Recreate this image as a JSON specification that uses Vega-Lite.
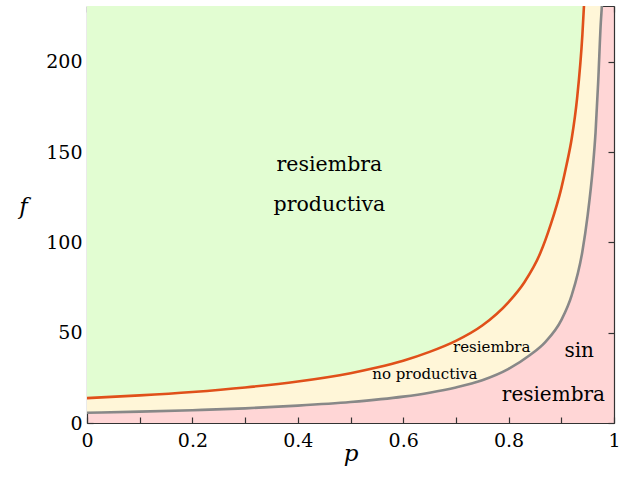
{
  "$schema": "https://vega.github.io/schema/vega-lite/v6.json",
  "width": 527,
  "height": 417,
  "autosize": {"type": "none"},
  "padding": {"left": 87, "top": 6, "right": 14, "bottom": 57},
  "background": "white",
  "view": {"fill": "#FFD6D6", "stroke": null},
  "config": {
    "font": "DejaVu Serif",
    "text": {"font": "DejaVu Serif"},
    "axis": {
      "labelFont": "DejaVu Serif",
      "labelFontSize": 19,
      "labelColor": "black",
      "titleFont": "DejaVu Serif",
      "titleFontSize": 23,
      "titleFontStyle": "italic",
      "titleFontWeight": "normal",
      "titleColor": "black",
      "domainColor": "#333333",
      "domainWidth": 1.2,
      "tickColor": "#333333",
      "tickWidth": 1.2,
      "tickSize": -6,
      "grid": false,
      "labelOverlap": false,
      "labelFlush": false
    }
  },
  "datasets": {
    "orange": [
      {"p": 0, "f": 13.8}, {"p": 0.1, "f": 15.3}, {"p": 0.2, "f": 17.2}, {"p": 0.3, "f": 19.7},
      {"p": 0.4, "f": 23}, {"p": 0.5, "f": 27.6}, {"p": 0.55, "f": 30.7}, {"p": 0.6, "f": 34.5},
      {"p": 0.65, "f": 39.4}, {"p": 0.7, "f": 45.5}, {"p": 0.75, "f": 54}, {"p": 0.8, "f": 67},
      {"p": 0.83, "f": 78}, {"p": 0.86, "f": 94}, {"p": 0.88, "f": 110}, {"p": 0.9, "f": 130},
      {"p": 0.91, "f": 143}, {"p": 0.92, "f": 158}, {"p": 0.93, "f": 180}, {"p": 0.94, "f": 215},
      {"p": 0.943, "f": 231}
    ],
    "gray": [
      {"p": 0, "f": 5.7}, {"p": 0.1, "f": 6.3}, {"p": 0.2, "f": 7.1}, {"p": 0.3, "f": 8.1},
      {"p": 0.4, "f": 9.6}, {"p": 0.5, "f": 11.6}, {"p": 0.6, "f": 14.6}, {"p": 0.65, "f": 16.8},
      {"p": 0.7, "f": 19.7}, {"p": 0.75, "f": 23.7}, {"p": 0.8, "f": 30}, {"p": 0.84, "f": 37.5},
      {"p": 0.87, "f": 45}, {"p": 0.9, "f": 57}, {"p": 0.92, "f": 71}, {"p": 0.94, "f": 95},
      {"p": 0.95, "f": 115}, {"p": 0.96, "f": 142}, {"p": 0.965, "f": 161}, {"p": 0.97, "f": 189},
      {"p": 0.975, "f": 222}, {"p": 0.977, "f": 231}
    ]
  },
  "layer": [
    {
      "data": {"name": "gray"},
      "mark": {"type": "area", "color": "#FFF6D8", "interpolate": "monotone", "clip": true},
      "encoding": {
        "x": {"field": "p", "type": "quantitative", "scale": {"domain": [0, 1], "nice": false, "zero": false},
              "axis": {"orient": "bottom", "title": "p", "values": [0, 0.1, 0.2, 0.3, 0.4, 0.5, 0.6, 0.7, 0.8, 0.9, 1],
                       "labelExpr": "round(datum.value*10)%2==0 ? format(datum.value,'') : ''",
                       "labelPadding": 14, "titleBaseline": "alphabetic", "titleY": 37}},
        "y": {"field": "f", "type": "quantitative", "scale": {"domain": [0, 231], "nice": false, "zero": false},
              "axis": {"orient": "left", "title": "f", "values": [0, 50, 100, 150, 200], "labelPadding": 11,
                       "titleAngle": 0, "titleX": -64, "titleY": 207, "titleAlign": "center", "titleBaseline": "alphabetic"}},
        "y2": {"datum": 231}
      }
    },
    {
      "data": {"name": "orange"},
      "mark": {"type": "area", "color": "#E2FDD2", "interpolate": "monotone", "clip": true},
      "encoding": {
        "x": {"field": "p", "type": "quantitative",
              "axis": {"orient": "top", "title": null, "values": [0, 0.1, 0.2, 0.3, 0.4, 0.5, 0.6, 0.7, 0.8, 0.9, 1], "labels": false}},
        "y": {"field": "f", "type": "quantitative",
              "axis": {"orient": "right", "title": null, "values": [0, 50, 100, 150, 200], "labels": false}},
        "y2": {"datum": 231}
      }
    },
    {
      "data": {"name": "orange"},
      "mark": {"type": "line", "color": "#E0501A", "strokeWidth": 2.6, "interpolate": "monotone", "clip": true},
      "encoding": {
        "x": {"field": "p", "type": "quantitative", "axis": null},
        "y": {"field": "f", "type": "quantitative", "axis": null}
      }
    },
    {
      "data": {"name": "gray"},
      "mark": {"type": "line", "color": "#888888", "strokeWidth": 2.6, "interpolate": "monotone", "clip": true},
      "encoding": {
        "x": {"field": "p", "type": "quantitative", "axis": null},
        "y": {"field": "f", "type": "quantitative", "axis": null}
      }
    },
    {
      "data": {"values": [{}]},
      "mark": {"type": "text", "text": "resiembra", "font": "DejaVu Serif", "fontSize": 20.5, "baseline": "alphabetic", "color": "black"},
      "encoding": {"x": {"datum": 0.46, "type": "quantitative", "axis": null}, "y": {"datum": 139.8, "type": "quantitative", "axis": null}}
    },
    {
      "data": {"values": [{}]},
      "mark": {"type": "text", "text": "productiva", "font": "DejaVu Serif", "fontSize": 20.5, "baseline": "alphabetic", "color": "black"},
      "encoding": {"x": {"datum": 0.46, "type": "quantitative", "axis": null}, "y": {"datum": 117.7, "type": "quantitative", "axis": null}}
    },
    {
      "data": {"values": [{}]},
      "mark": {"type": "text", "text": "resiembra", "font": "DejaVu Serif", "fontSize": 15, "baseline": "alphabetic", "color": "black"},
      "encoding": {"x": {"datum": 0.768, "type": "quantitative", "axis": null}, "y": {"datum": 39.1, "type": "quantitative", "axis": null}}
    },
    {
      "data": {"values": [{}]},
      "mark": {"type": "text", "text": "no productiva", "font": "DejaVu Serif", "fontSize": 15, "baseline": "alphabetic", "color": "black"},
      "encoding": {"x": {"datum": 0.641, "type": "quantitative", "axis": null}, "y": {"datum": 24.2, "type": "quantitative", "axis": null}}
    },
    {
      "data": {"values": [{}]},
      "mark": {"type": "text", "text": "sin", "font": "DejaVu Serif", "fontSize": 20, "baseline": "alphabetic", "color": "black"},
      "encoding": {"x": {"datum": 0.934, "type": "quantitative", "axis": null}, "y": {"datum": 36.5, "type": "quantitative", "axis": null}}
    },
    {
      "data": {"values": [{}]},
      "mark": {"type": "text", "text": "resiembra", "font": "DejaVu Serif", "fontSize": 20, "baseline": "alphabetic", "color": "black"},
      "encoding": {"x": {"datum": 0.885, "type": "quantitative", "axis": null}, "y": {"datum": 12, "type": "quantitative", "axis": null}}
    }
  ],
  "resolve": {"axis": {"x": "independent", "y": "independent"}}
}
